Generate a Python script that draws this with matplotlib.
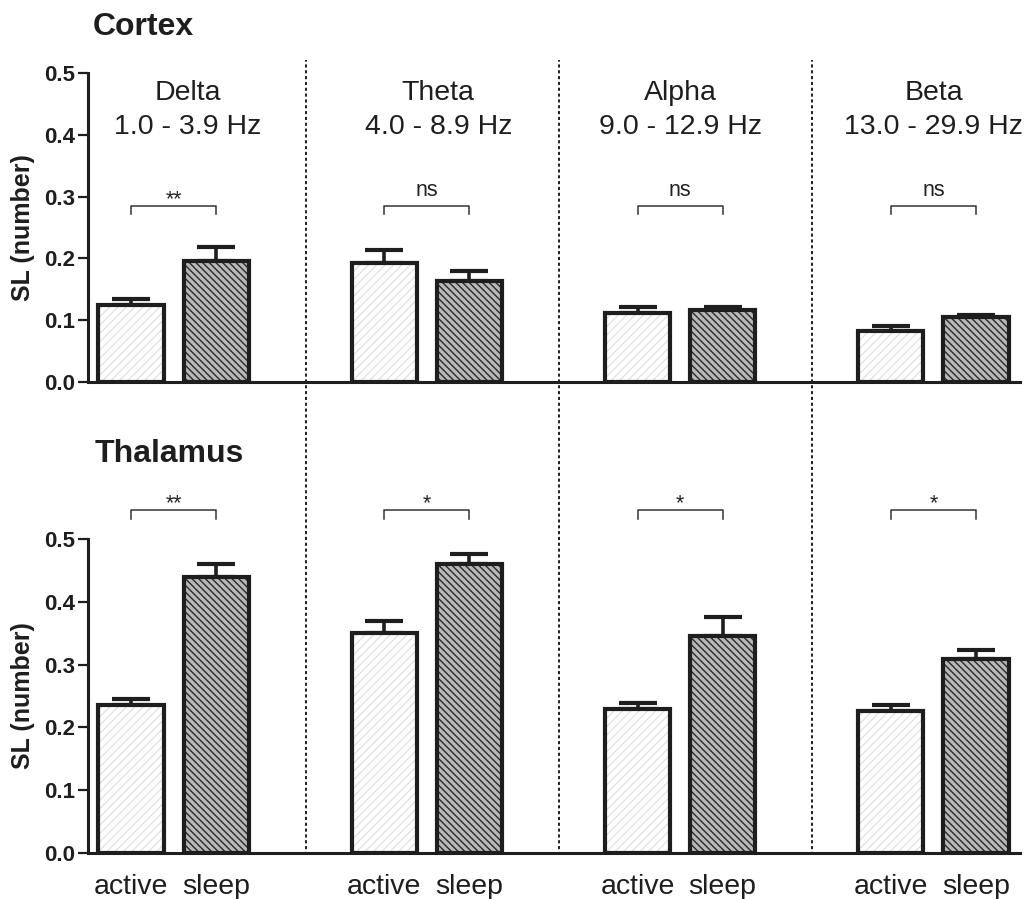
import matplotlib
matplotlib.use("Agg")
import matplotlib.pyplot as plt
import matplotlib.transforms as mtransforms
from matplotlib.lines import Line2D
import numpy as np

plt.rcParams['font.family'] = ['Liberation Sans', 'DejaVu Sans']
plt.rcParams['hatch.linewidth'] = 1.0

bands = ['Delta', 'Theta', 'Alpha', 'Beta']
band_ranges = ['1.0 - 3.9 Hz', '4.0 - 8.9 Hz', '9.0 - 12.9 Hz', '13.0 - 29.9 Hz']
conditions = ['active', 'sleep']

# SL means and SEM, per band
cortex_active = [0.124, 0.193, 0.111, 0.082]
cortex_active_sem = [0.010, 0.020, 0.010, 0.008]
cortex_sleep = [0.195, 0.163, 0.117, 0.105]
cortex_sleep_sem = [0.024, 0.017, 0.005, 0.004]
cortex_sig = ['**', 'ns', 'ns', 'ns']

thalamus_active = [0.235, 0.350, 0.230, 0.226]
thalamus_active_sem = [0.010, 0.020, 0.009, 0.009]
thalamus_sleep = [0.440, 0.460, 0.346, 0.309]
thalamus_sleep_sem = [0.020, 0.016, 0.029, 0.014]
thalamus_sig = ['**', '*', '*', '*']

EDGE = '#1e1e1e'
pair_gap = 0.336
bar_w = 0.257
title_dx = [0.055, 0.045, 0.0, 0.0]

fig = plt.figure(figsize=(10.3, 8.99), dpi=100)
ax_top = fig.add_axes([0.0854, 0.5751, 0.9049, 0.3437])
ax_bot = fig.add_axes([0.0854, 0.0512, 0.9049, 0.3493])


def draw_panel(ax, active, active_sem, sleep, sleep_sem, sig, bracket_y, tick_depth):
    idx = np.arange(len(bands))
    xa = idx
    xs = idx + pair_gap

    # error bars sit behind the bars so only the upper half shows
    ax.errorbar(xa, active, yerr=[np.zeros(len(active)), active_sem], fmt='none',
                ecolor=EDGE, elinewidth=2.6, capsize=13.5, capthick=3, zorder=1)
    ax.errorbar(xs, sleep, yerr=[np.zeros(len(sleep)), sleep_sem], fmt='none',
                ecolor=EDGE, elinewidth=2.6, capsize=13.5, capthick=3, zorder=1)

    # hatched fills, then a plain outline on top
    ax.bar(xa, active, bar_w, color='white', edgecolor='#e2e2e2', hatch='////',
           linewidth=0, zorder=2)
    ax.bar(xs, sleep, bar_w, color='#b8b8b8', edgecolor='#2a2a2a', hatch='\\' * 5,
           linewidth=0, zorder=2)
    ax.bar(xa, active, bar_w, fill=False, edgecolor=EDGE, linewidth=3, zorder=3)
    ax.bar(xs, sleep, bar_w, fill=False, edgecolor=EDGE, linewidth=3, zorder=3)

    # significance brackets
    for i, s in enumerate(sig):
        x0, x1 = xa[i], xs[i]
        ax.plot([x0, x0, x1, x1], [bracket_y - tick_depth, bracket_y, bracket_y, bracket_y - tick_depth],
                color='#333333', lw=1.1, clip_on=False, zorder=4)
        off = 7 if s == 'ns' else 0.5
        ax.annotate(s, ((x0 + x1) / 2, bracket_y), xytext=(0, off), textcoords='offset points',
                    ha='center', va='baseline', fontsize=15.5, color='#222222',
                    annotation_clip=False)

    ax.set_xlim(-0.1698, 3.5097)
    ax.set_ylim(0, 0.5)
    ax.set_yticks([0.0, 0.1, 0.2, 0.3, 0.4, 0.5])
    ax.set_yticklabels(['%.1f' % t for t in ax.get_yticks()], fontweight='bold', fontsize=16)
    ax.tick_params(axis='y', direction='out', length=7, width=1.6, pad=2, colors='#1e1e1e')
    ax.set_ylabel('SL (number)', fontsize=18, fontweight='bold', color='#1e1e1e')
    ax.yaxis.set_label_coords(-0.0567, 0.5)
    for side in ['top', 'right']:
        ax.spines[side].set_visible(False)
    for side in ['left', 'bottom']:
        ax.spines[side].set_linewidth(2.2)
        ax.spines[side].set_color(EDGE)
    return xa, xs


xa, xs = draw_panel(ax_top, cortex_active, cortex_active_sem, cortex_sleep, cortex_sleep_sem,
                    cortex_sig, 0.285, 0.013)
ax_top.set_xticks([])

for i, (b, r) in enumerate(zip(bands, band_ranges)):
    cx = (xa[i] + xs[i]) / 2 + title_dx[i]
    ax_top.text(cx, 0.4565, b, ha='center', va='baseline', fontsize=20.5, color='#1e1e1e')
    ax_top.text(cx, 0.4016, r, ha='center', va='baseline', fontsize=20.5, color='#1e1e1e')

xa, xs = draw_panel(ax_bot, thalamus_active, thalamus_active_sem, thalamus_sleep, thalamus_sleep_sem,
                    thalamus_sig, 0.546, 0.014)
ticks = np.ravel(np.column_stack([xa, xs]))
ax_bot.set_xticks(ticks)
ax_bot.set_xticklabels(conditions * len(bands), fontsize=20.5, color='#1e1e1e')
ax_bot.tick_params(axis='x', length=0, pad=15)

fig.text(0.0903, 0.961, 'Cortex', fontsize=23, fontweight='bold', va='baseline', color='#1e1e1e')
fig.text(0.0922, 0.486, 'Thalamus', fontsize=23, fontweight='bold', va='baseline', color='#1e1e1e')

# dotted separators spanning both panels
trans = mtransforms.blended_transform_factory(ax_top.transData, fig.transFigure)
for i in range(len(bands) - 1):
    x = i + 0.69
    fig.add_artist(Line2D([x, x], [0.049, 0.933], transform=trans, color='#1e1e1e',
                          lw=1.4, linestyle=(0, (1.6, 1.4))))

fig.savefig('out.png', dpi=100)
